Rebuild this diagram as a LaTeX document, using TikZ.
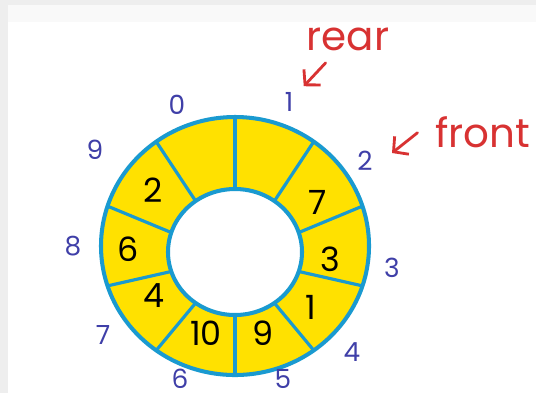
\documentclass[tikz,border=0pt]{standalone}
\usepackage{fontspec}
\newfontfamily\hand{Poppins}
\usetikzlibrary{positioning,arrows.meta,calc}
\definecolor{ring}   {HTML}{1A9AD0}
\definecolor{slot}   {HTML}{FFE100}
\definecolor{idxink} {HTML}{3F3FA8}
\definecolor{redink} {HTML}{D83232}
\definecolor{frame}  {HTML}{EEEEEE}
\definecolor{strip}  {HTML}{F9F9F9}
\tikzset{
  % --- nodes
  idx/.style  = {font=\hand\fontsize{15}{15}\selectfont, text=idxink, inner sep=0.5pt},
  val/.style  = {font=\hand\fontsize{19}{19}\selectfont, text=black, inner sep=1pt},
  tag/.style  = {font=\hand\fontsize{23}{23}\selectfont, text=redink, inner sep=1pt},
  % --- edges
  edge/.style = {line width=1.8pt, draw=ring},
  rim/.style  = {line width=2.3pt, draw=ring},
  arr/.style  = {-{Straight Barb[length=6pt,width=13pt]}, line width=1.6pt, draw=redink,
                 line cap=round},
}

\begin{document}
\begin{tikzpicture}[x=0.02cm, y=0.02cm]
  \useasboundingbox (0,0) rectangle (536,-393);
  \fill[frame] (0,0) rectangle (536,-393);
  \fill[strip] (8,-5) rectangle (536,-22);
  \fill[white] (8,-22) rectangle (536,-393);

  \begin{scope}[shift={(235,-246)}]
    % ring of ten slots
    \fill[slot, even odd rule] (0,0) ellipse[x radius=134, y radius=129]
                               (0,-6) ellipse[x radius=67, y radius=63];
    \foreach \a in {90,54,...,-234}
      \draw[edge] ([shift={(0,-6)}]\a:67 and 63) -- (\a:134 and 129);
    \draw[rim] (0,0) ellipse[x radius=134, y radius=129];
    \draw[rim] (0,-6) ellipse[x radius=67, y radius=63];
  \end{scope}

  % slot numbers
  \foreach \k/\x/\y in {0/177/105,1/289/102,2/365/161,3/392/268,4/352/352,
                        5/283/379,6/180/379,7/103/335,8/73/246,9/95/150}
    \node[idx] (idx\k) at (\x,-\y) {\k};

  % stored values
  \foreach \k/\v/\x/\y in {2/7/318/202,3/3/330/259,4/1/311/307,5/9/263/333,
                           6/10/206/333,7/4/154/296,8/6/128/249,9/2/153/190}
    \node[val] (val\k) at (\x,-\y) {\v};

  \node[tag, anchor=base] (rear) at (348,-50) {rear};
  \node[tag, anchor=base] (front) at (483,-147) {front};
  \coordinate (fronttip) at (392,-153);

  \draw[arr] ($(rear)!0.38!(idx1)$) -- ($(rear)!0.75!(idx1)$);
  \draw[arr] ([shift={(-16,-1)}]front.west) -- (fronttip);
\end{tikzpicture}
\end{document}
